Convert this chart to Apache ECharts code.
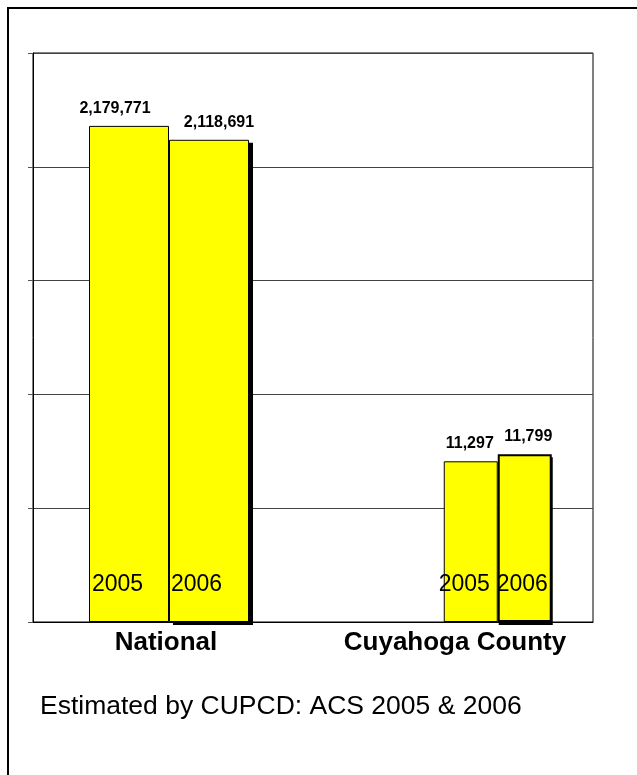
<!DOCTYPE html>
<html>
<head>
<meta charset="utf-8">
<script src="https://cdn.jsdelivr.net/npm/echarts@6/dist/echarts.min.js"></script>
<style>
  html, body { margin: 0; padding: 0; background: #fff; }
  #chart { width: 637px; height: 775px; }
</style>
</head>
<body>
<div id="chart"></div>
<script>
// Categories and years
const categories = ['National', 'Cuyahoga County'];
const years = ['2005', '2006'];

// Values per area, one entry per year
const nationalValues = [2179771, 2118691];
const countyValues = [11297, 11799];

// Each area is plotted against its own value scale
const nationalAxisMax = 2500000;
const countyAxisMax = 40000;
const splitCount = 5;

const FONT = 'Arial, "Liberation Sans", Helvetica, sans-serif';
const fmt = v => v.toLocaleString('en-US');

// Plot geometry shared by every grid
const PLOT_TOP = 53;
const PLOT_H = 569;
const PLOT_W = 560;
const SHADOW_DX = 4;
const SHADOW_DY = 3;

// A yellow bar plus a zero-height cap stacked on it that carries the value label
function barWithCap(opts) {
  const data = categories.map((c, i) => (i === opts.catIndex ? opts.value : '-'));
  const capData = categories.map((c, i) => (i === opts.catIndex ? 0 : '-'));
  const stack = 's' + opts.axis + '_' + opts.year;
  return [
    {
      type: 'bar',
      name: opts.year,
      xAxisIndex: opts.axis,
      yAxisIndex: opts.axis,
      stack: stack,
      barWidth: opts.barWidth,
      barGap: '0%',
      z: 3,
      data: data,
      itemStyle: { color: '#FFFF00', borderColor: '#000', borderWidth: opts.borderWidth || 1 },
      label: {
        show: true,
        position: 'insideBottomLeft',
        formatter: '{a}',
        fontFamily: FONT,
        fontSize: 23,
        color: '#000',
        offset: opts.yearOffset
      }
    },
    {
      type: 'bar',
      name: opts.year + ' value',
      xAxisIndex: opts.axis,
      yAxisIndex: opts.axis,
      stack: stack,
      barWidth: opts.barWidth,
      barGap: '0%',
      silent: true,
      z: 3,
      data: capData,
      itemStyle: { color: 'rgba(0,0,0,0)', borderWidth: 0 },
      label: {
        show: true,
        position: 'top',
        distance: 9.5,
        offset: opts.valueOffset,
        formatter: () => fmt(opts.value),
        fontFamily: FONT,
        fontSize: 16,
        fontWeight: 'bold',
        color: '#000'
      }
    }
  ];
}

// Drop shadow behind the 2006 bar: same value, drawn on a grid shifted down-right
function shadowPair(axis, catIndex, values, barWidth) {
  return years.map((y, k) => ({
    type: 'bar',
    name: y + ' shadow',
    xAxisIndex: axis,
    yAxisIndex: axis,
    barWidth: barWidth,
    barGap: '0%',
    silent: true,
    z: 1,
    data: categories.map((c, i) => (i === catIndex && k === 1 ? values[k] : '-')),
    itemStyle: { color: '#000' }
  }));
}

const series = [].concat(
  shadowPair(3, 0, nationalValues, 80),
  shadowPair(4, 1, countyValues, 54),
  barWithCap({ axis: 1, catIndex: 0, year: years[0], value: nationalValues[0], barWidth: 80,
               yearOffset: [-2, -21], valueOffset: [-14, 0] }),
  barWithCap({ axis: 1, catIndex: 0, year: years[1], value: nationalValues[1], barWidth: 80,
               yearOffset: [-3, -21], valueOffset: [10, 0] }),
  barWithCap({ axis: 2, catIndex: 1, year: years[0], value: countyValues[0], barWidth: 54,
               yearOffset: [-10, -21], valueOffset: [-1, 0] }),
  barWithCap({ axis: 2, catIndex: 1, year: years[1], value: countyValues[1], barWidth: 54,
               yearOffset: [-6, -21], valueOffset: [3.5, 0], borderWidth: 2 })
);

const hiddenX = i => ({ type: 'category', gridIndex: i, data: categories, show: false });
const hiddenY = (i, max) => ({ type: 'value', gridIndex: i, min: 0, max: max,
                               interval: max / splitCount, show: false });

const NAT_LEFT = 29;
const CTY_LEFT = 80;

const chart = echarts.init(document.getElementById('chart'), null, { renderer: 'canvas' });
chart.setOption({
  animation: false,
  backgroundColor: '#fff',
  textStyle: { fontFamily: FONT },
  grid: [
    // framed plot area with gridlines and category labels
    { left: 33, width: PLOT_W, top: PLOT_TOP, height: PLOT_H, show: true,
      borderColor: '#000', borderWidth: 1, backgroundColor: 'transparent' },
    // national bars
    { left: NAT_LEFT, width: PLOT_W, top: PLOT_TOP, height: PLOT_H },
    // county bars
    { left: CTY_LEFT, width: PLOT_W, top: PLOT_TOP, height: PLOT_H },
    // national shadow
    { left: NAT_LEFT + SHADOW_DX, width: PLOT_W, top: PLOT_TOP + SHADOW_DY, height: PLOT_H },
    // county shadow
    { left: CTY_LEFT + SHADOW_DX, width: PLOT_W, top: PLOT_TOP + SHADOW_DY, height: PLOT_H }
  ],
  xAxis: [
    {
      type: 'category',
      gridIndex: 0,
      data: categories,
      axisTick: { show: false },
      axisLine: { lineStyle: { color: '#000', width: 1 } },
      axisLabel: {
        interval: 0,
        margin: 8,
        fontFamily: FONT,
        fontSize: 26,
        fontWeight: 'bold',
        color: '#000',
        formatter: (v, i) => (i === 0 ? '{n|' + v + '}' : '{c|' + v + '}'),
        rich: {
          n: { fontFamily: FONT, fontSize: 26, fontWeight: 'bold', color: '#000', padding: [0, 14, 0, 0] },
          c: { fontFamily: FONT, fontSize: 26, fontWeight: 'bold', color: '#000', padding: [0, 0, 0, 4] }
        }
      }
    },
    hiddenX(1),
    hiddenX(2),
    hiddenX(3),
    hiddenX(4)
  ],
  yAxis: [
    {
      type: 'value',
      gridIndex: 0,
      min: 0,
      max: nationalAxisMax,
      interval: nationalAxisMax / splitCount,
      axisLabel: { show: false },
      axisLine: { show: true, lineStyle: { color: '#000', width: 1 } },
      axisTick: { show: true, length: 5, lineStyle: { color: '#555' } },
      splitLine: { show: true, lineStyle: { color: '#444', width: 1 } }
    },
    hiddenY(1, nationalAxisMax),
    hiddenY(2, countyAxisMax),
    hiddenY(3, nationalAxisMax),
    hiddenY(4, countyAxisMax)
  ],
  series: series,
  graphic: [
    {
      type: 'rect',
      silent: true,
      shape: { x: 8, y: 8, width: 700, height: 800 },
      style: { fill: 'none', stroke: '#000', lineWidth: 2 }
    },
    {
      type: 'text',
      left: 40,
      top: 693,
      style: {
        text: 'Estimated by CUPCD: ACS 2005 & 2006',
        font: '26.5px ' + FONT,
        fill: '#000'
      }
    }
  ]
});
</script>
</body>
</html>
